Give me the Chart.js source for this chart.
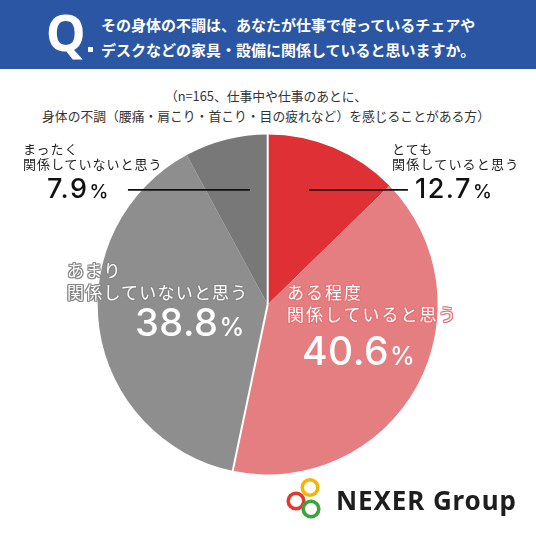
<!DOCTYPE html>
<html><head><meta charset="utf-8">
<script src="https://cdn.jsdelivr.net/npm/chart.js@4.4.1/dist/chart.umd.min.js"></script>
<style>
html,body{margin:0;padding:0;background:#fff;}
body{width:536px;height:533px;position:relative;overflow:hidden;font-family:'Noto Sans CJK JP','Noto Sans',sans-serif;}
#band{position:absolute;left:0;top:0;width:536px;height:69px;background:#2A56A3;}
#q{position:absolute;left:46px;top:7px;color:#fff;font:700 50px 'Noto Sans',sans-serif;line-height:1;}
#qdot{position:absolute;left:88px;top:47px;width:5px;height:5px;background:#fff;}
#title{position:absolute;left:101px;top:11.7px;color:#fff;font-weight:700;font-size:15px;line-height:25px;white-space:nowrap;}
#sub{position:absolute;left:0;width:532px;top:86.3px;text-align:center;color:#333;font-size:12.8px;line-height:20px;white-space:nowrap;}
canvas{position:absolute;left:0;top:0;}
.lab{position:absolute;white-space:nowrap;}
.num{position:absolute;white-space:nowrap;font-family:'Inter',sans-serif;font-weight:500;line-height:1.21;}
#logo{position:absolute;left:283px;top:474px;}
#logotext{position:absolute;left:336px;color:#1e1e1e;font:700 26px 'Noto Sans',sans-serif;line-height:1;letter-spacing:0.9px;white-space:nowrap;}
</style></head>
<body>
<div id="band"></div>
<div id="q">Q</div><div id="qdot"></div>
<div id="title">その身体の不調は、あなたが仕事で使っているチェアや<br>デスクなどの家具・設備に関係していると思いますか。</div>
<div id="sub"></div>
<canvas id="c" width="536" height="533"></canvas>
<svg id="logo" width="50" height="52" viewBox="283 474 50 52">
  <circle cx="310" cy="487.5" r="7.8" fill="none" stroke="#F2B705" stroke-width="3.6"/>
  <circle cx="296" cy="501" r="7.8" fill="none" stroke="#E23A2E" stroke-width="3.6"/>
  <circle cx="311" cy="509" r="7.8" fill="none" stroke="#3BA53A" stroke-width="3.6"/>
</svg>
<div id="logotext">NEXER Group</div>
<script>
// ---- data ----
const categories = ['とても関係していると思う','ある程度関係していると思う','あまり関係していないと思う','まったく関係していないと思う'];
const labelLine1 = ['とても','ある程度','あまり','まったく'];
const labelLine2 = ['関係していると思う','関係していると思う','関係していないと思う','関係していないと思う'];
const values = [12.7, 40.6, 38.8, 7.9];
const sampleSize = 165;
const subtitleLines = ['（n=' + sampleSize + '、仕事中や仕事のあとに、', '身体の不調（腰痛・肩こり・首こり・目の疲れなど）を感じることがある方）'];

// ---- styles / layout ----
const sliceColors = ['#DF3135','#E47E80','#8E8E8E','#787878'];
const labelLayout = [
  {left:392, top:140.5, fs:13, lh:15.5, ls:1.2, color:'#1c1c1c', outline:null, numLeft:415, numBase:199, nfs:27, pfs:19, nls:1.5, ncolor:'#111'},
  {left:287, top:281, fs:17, lh:22, ls:2, color:'#fff', outline:'#E27476', numLeft:302, numBase:365, nfs:39, pfs:25, nls:0.5, ncolor:'#fff'},
  {left:67, top:259, fs:17, lh:22, ls:1.2, color:'#fff', outline:'#858585', numLeft:135, numBase:337, nfs:38, pfs:25, nls:0.5, ncolor:'#fff'},
  {left:23, top:140.5, fs:13, lh:15.5, ls:1, color:'#1c1c1c', outline:null, numLeft:47, numBase:199, nfs:27, pfs:19, nls:1.5, ncolor:'#111'}
];
const separatorSlices = [0, 2];
const leaderLines = [ {x0:-0.822, x1:-0.104, dy:-0.674}, {x0:0.243, x1:0.825, dy:-0.674} ];

document.getElementById('sub').innerHTML = subtitleLines.join('<br>');

labelLayout.forEach((L, i) => {
  const d = document.createElement('div');
  d.className = 'lab';
  d.style.left = L.left + 'px';
  d.style.top = L.top + 'px';
  d.style.fontSize = L.fs + 'px';
  d.style.lineHeight = L.lh + 'px';
  d.style.letterSpacing = L.ls + 'px';
  d.style.color = L.color;
  if (L.outline) {
    const o = L.outline;
    d.style.textShadow = [[1,0],[-1,0],[0,1],[0,-1],[1,1],[-1,-1],[1,-1],[-1,1]].map(p => p[0]+'px '+p[1]+'px 0 '+o).join(',');
  }
  d.innerHTML = labelLine1[i] + '<br>' + labelLine2[i];
  document.body.appendChild(d);
  const n = document.createElement('div');
  n.className = 'num';
  n.style.left = L.numLeft + 'px';
  n.style.top = (L.numBase - 0.969 * L.nfs) + 'px';
  n.style.fontSize = L.nfs + 'px';
  n.style.letterSpacing = L.nls + 'px';
  n.style.color = L.ncolor;
  n.innerHTML = values[i].toFixed(1) + '<span style="font-size:' + L.pfs + 'px;letter-spacing:0;margin-left:1px">%</span>';
  document.body.appendChild(n);
});

const lt = document.getElementById('logotext');
lt.style.top = (510 - 0.888 * 26) + 'px';

const overlayPlugin = {
  id: 'overlay',
  afterDatasetsDraw(chart) {
    const meta = chart.getDatasetMeta(0);
    const ctx = chart.ctx;
    ctx.save();
    ctx.strokeStyle = '#fff';
    ctx.lineWidth = 2;
    separatorSlices.forEach(i => {
      const a = meta.data[i];
      const R = a.outerRadius;
      ctx.beginPath();
      ctx.moveTo(a.x, a.y);
      ctx.lineTo(a.x + Math.cos(a.startAngle) * (R + 1), a.y + Math.sin(a.startAngle) * (R + 1));
      ctx.stroke();
    });
    const a0 = meta.data[0];
    ctx.strokeStyle = '#111';
    ctx.lineWidth = 1.8;
    leaderLines.forEach(l => {
      const y = a0.y + l.dy * a0.outerRadius;
      ctx.beginPath();
      ctx.moveTo(a0.x + l.x0 * a0.outerRadius, y);
      ctx.lineTo(a0.x + l.x1 * a0.outerRadius, y);
      ctx.stroke();
    });
    ctx.restore();
  }
};

new Chart(document.getElementById('c'), {
  type: 'pie',
  data: { labels: categories, datasets: [{ data: values, backgroundColor: sliceColors, borderWidth: 0, hoverOffset: 0 }] },
  options: {
    responsive: false, animation: false, events: [],
    layout: { padding: { left: 97.7, right: 98.3, top: 134.5, bottom: 58.5 } },
    plugins: { legend: { display: false }, tooltip: { enabled: false } }
  },
  plugins: [overlayPlugin]
});
</script>
</body></html>
